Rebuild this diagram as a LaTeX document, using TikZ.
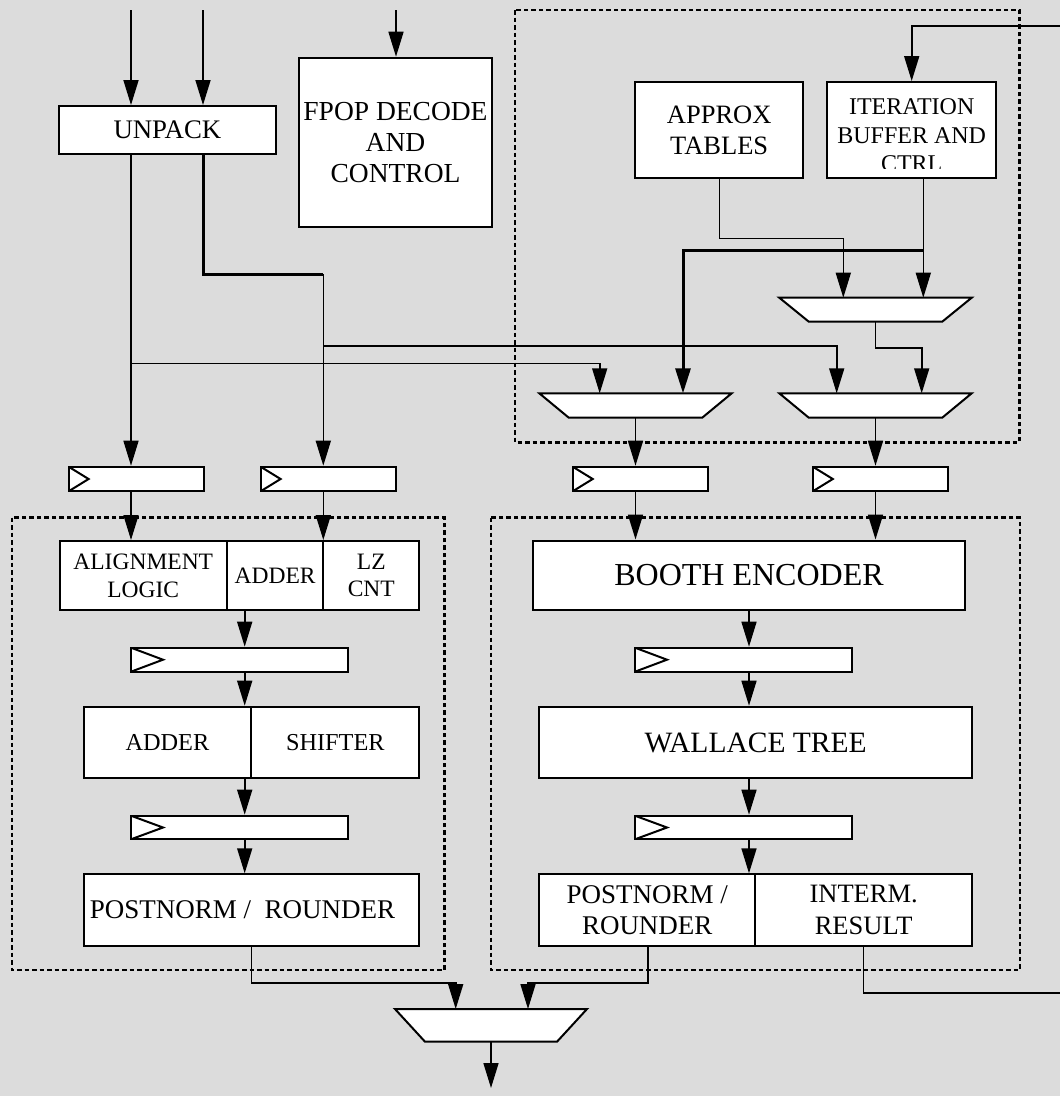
\documentclass[tikz,border=0pt]{standalone}
\usepackage{fontspec}
\setmainfont{Liberation Serif}
\usetikzlibrary{arrows.meta}
\newcommand\setfs[2]{\fontsize{#1}{#2}\selectfont}
\definecolor{canvas}{RGB}{220,220,220}
\begin{document}
\begin{tikzpicture}[x=1pt,y=-1pt,
  blk/.style={draw, line width=2pt, fill=white, inner sep=0pt, align=center},
  reg/.style={draw, line width=2pt, fill=white, inner sep=0pt,
    path picture={\draw[line width=2pt] (path picture bounding box.north west)
      -- ([xshift=#1pt]path picture bounding box.west)
      -- (path picture bounding box.south west);}},
  muxbox/.style={inner sep=0pt, outer sep=0pt},
  muxshape/.style={draw, line width=2pt, fill=white, line join=miter},
  wire/.style={line width=1.6pt},
  bus/.style={line width=3pt},
  arr/.style={wire, -{Triangle[length=25pt,width=15pt]}},
  busarr/.style={bus, -{Triangle[length=25pt,width=15pt]}},
  groupframe/.style={line width=2.5pt, dash pattern=on 4.5pt off 3pt},
]
\useasboundingbox (0,0) rectangle (1060,1096);
\fill[canvas] (0,0) rectangle (1060,1096);

% pipeline group frames
\draw[groupframe] (515,10) rectangle (1019.3,442.3);
\draw[groupframe] (11.8,517.7) rectangle (444.3,970);
\draw[groupframe] (491.2,517.7) rectangle (1020,970);

% front end
\node[blk, minimum width=216.7pt, minimum height=48.3pt, font=\setfs{26.8}{30}] (unpack) at (167.4,130.2) {UNPACK};
\node[blk, minimum width=193pt, minimum height=169pt, font=\setfs{27.5}{31}] (fpop) at (395.5,142.2) {FPOP DECODE\\AND\\CONTROL};
\node[blk, minimum width=168.3pt, minimum height=96.3pt, font=\setfs{26.5}{31.7}] (approx) at (719.2,130.2) {APPROX\\TABLES};
\node[blk, minimum width=168.7pt, minimum height=96.3pt] (iter) at (911.7,130.2) {};
\begin{scope}
  \clip (827.3,82) rectangle (996,168.3);
  \node[font=\setfs{24}{28.3}, align=center, inner sep=0pt] (itertxt) at (911.7,135.3) {ITERATION\\BUFFER AND\\CTRL};
\end{scope}

% multiplexers
\node[muxbox, minimum width=192.4pt, minimum height=24pt] (muxT) at (875.5,309.7) {};
\node[muxbox, minimum width=192.4pt, minimum height=24.4pt] (muxL) at (635.5,405.5) {};
\node[muxbox, minimum width=192.4pt, minimum height=24.4pt] (muxR) at (875.5,405.5) {};
\node[muxbox, minimum width=192pt, minimum height=32.7pt] (muxF) at (491,1025.35) {};
\foreach \m/\d in {muxT/29.5, muxL/29.5, muxR/29.5, muxF/30}
  \draw[muxshape] (\m.north west) -- (\m.north east)
    -- ([xshift=-\d pt]\m.south east) -- ([xshift=\d pt]\m.south west) -- cycle;

% pipeline registers
\node[reg=20, minimum width=135pt, minimum height=24.6pt] (r1) at (136.1,479) {};
\node[reg=20, minimum width=135pt, minimum height=24.6pt] (r2) at (328.1,479) {};
\node[reg=20, minimum width=135pt, minimum height=24.6pt] (r3) at (640.2,479) {};
\node[reg=20, minimum width=135pt, minimum height=24.6pt] (r4) at (880.3,479) {};
\node[reg=32, minimum width=216.7pt, minimum height=24pt] (r5) at (239.35,659.7) {};
\node[reg=32, minimum width=216.7pt, minimum height=23.6pt] (r6) at (239.35,827.5) {};
\node[reg=32, minimum width=216.7pt, minimum height=24pt] (r7) at (743.35,659.7) {};
\node[reg=32, minimum width=216.7pt, minimum height=23.6pt] (r8) at (743.35,827.5) {};

% add / align datapath
\node[blk, minimum width=167.5pt, minimum height=69pt, font=\setfs{23.5}{27.8}] (align) at (143.25,575.5) {ALIGNMENT\\LOGIC};
\node[blk, minimum width=96.3pt, minimum height=69pt, font=\setfs{23.5}{27.8}] (addA) at (275.15,575.5) {ADDER};
\node[blk, minimum width=96pt, minimum height=69pt, font=\setfs{23.5}{27.8}] (lzcnt) at (371.3,575.5) {LZ\\CNT};
\node[blk, minimum width=167.8pt, minimum height=71.6pt, font=\setfs{24.3}{28}] (addB) at (167.4,742.5) {ADDER};
\node[blk, minimum width=168pt, minimum height=71.6pt, font=\setfs{24.3}{28}] (shift) at (335.3,742.5) {SHIFTER};
\node[blk, minimum width=335.8pt, minimum height=71.7pt, font=\setfs{27}{30}] (postL) at (251.4,910.15) {POSTNORM /~ ROUNDER\hspace*{18pt}};

% multiply datapath
\node[blk, minimum width=432pt, minimum height=69.5pt, font=\setfs{32}{36}] (booth) at (749,575.25) {BOOTH ENCODER};
\node[blk, minimum width=432.8pt, minimum height=71.6pt, font=\setfs{29.5}{34}] (wallace) at (755.6,742.5) {WALLACE TREE};
\node[blk, minimum width=216.1pt, minimum height=71.7pt, font=\setfs{27}{31.7}] (postR) at (647.25,910.15) {POSTNORM /\\ROUNDER};
\node[blk, minimum width=216.7pt, minimum height=71.7pt, font=\setfs{26.5}{31.7}] (interm) at (863.65,910.15) {INTERM.\\RESULT};

% routing columns and rows
\coordinate (cA) at (131,0);   \coordinate (cB) at (203,0);   \coordinate (cC) at (323.3,0);
\coordinate (cF) at (396,0);   \coordinate (cL) at (244.7,0); \coordinate (cR) at (749,0);
\coordinate (cM1) at (599.7,0); \coordinate (cM2) at (683,0);
\coordinate (cM3) at (836.7,0); \coordinate (cM4) at (921.7,0);
\coordinate (cT1) at (719.3,0); \coordinate (cT2) at (843.3,0); \coordinate (cT3) at (923.3,0);
\coordinate (cPL) at (251.3,0); \coordinate (cPR) at (647.7,0); \coordinate (cIn) at (863.3,0);
\coordinate (cF1) at (455.7,0); \coordinate (cF2) at (528,0);
\coordinate (ytop) at (0,10);   \coordinate (yJ) at (0,274.3);
\coordinate (yH1) at (0,346);   \coordinate (yH2) at (0,363.5);
\coordinate (yA) at (0,238.3);  \coordinate (yB) at (0,250);   \coordinate (yC) at (0,347.7);
\coordinate (yD) at (0,982.7);  \coordinate (yE) at (0,992.7); \coordinate (yFB) at (0,26);
\coordinate (edge) at (1064,0); \coordinate (out) at (491,1088);

% inputs
\draw[arr] (cA |- ytop) -- (cA |- unpack.north);
\draw[arr] (cB |- ytop) -- (cB |- unpack.north);
\draw[arr] (cF |- ytop) -- (cF |- fpop.north);

% unpack outputs
\draw[arr] (cA |- unpack.south) -- (cA |- r1.north);
\draw[bus] (cB |- unpack.south) -- (cB |- yJ) -- (cC |- yJ);
\draw[arr] (cC |- yJ) -- (cC |- r2.north);
\draw[arr] (cA |- yH2) -- (cM1 |- yH2) -- (cM1 |- muxL.north);
\draw[arr] (cC |- yH1) -- (cM3 |- yH1) -- (cM3 |- muxR.north);

% iteration logic
\draw[arr] (cT1 |- approx.south) -- (cT1 |- yA) -- (cT2 |- yA) -- (cT2 |- muxT.north);
\draw[arr] (cT3 |- iter.south) -- (cT3 |- muxT.north);
\draw[busarr] (cT3 |- yB) -- (cM2 |- yB) -- (cM2 |- muxL.north);
\draw[arr] (muxT.south) -- (muxT.south |- yC) -- (cM4 |- yC) -- (cM4 |- muxR.north);
\draw[arr] (muxL.south) -- (muxL.south |- r3.north);
\draw[arr] (muxR.south) -- (muxR.south |- r4.north);

% into the datapaths
\draw[arr] (cA |- r1.south) -- (cA |- align.north);
\draw[arr] (cC |- r2.south) -- (cC |- lzcnt.north);
\draw[arr] (muxL.south |- r3.south) -- (muxL.south |- booth.north);
\draw[arr] (muxR.south |- r4.south) -- (muxR.south |- booth.north);

% add pipeline
\draw[arr] (cL |- align.south) -- (cL |- r5.north);
\draw[arr] (cL |- r5.south) -- (cL |- addB.north);
\draw[arr] (cL |- addB.south) -- (cL |- r6.north);
\draw[arr] (cL |- r6.south) -- (cL |- postL.north);

% multiply pipeline
\draw[arr] (cR |- booth.south) -- (cR |- r7.north);
\draw[arr] (cR |- r7.south) -- (cR |- wallace.north);
\draw[arr] (cR |- wallace.south) -- (cR |- r8.north);
\draw[arr] (cR |- r8.south) -- (cR |- postR.north);

% result select and feedback
\draw[arr] (cPL |- postL.south) -- (cPL |- yD) -- (cF1 |- yD) -- (cF1 |- muxF.north);
\draw[arr] (cPR |- postR.south) -- (cPR |- yD) -- (cF2 |- yD) -- (cF2 |- muxF.north);
\draw[arr] (muxF.south) -- (muxF.south |- out);
\draw[arr] (cIn |- interm.south) -- (cIn |- yE) -- (edge |- yE) -- (edge |- yFB)
  -- (iter.north |- yFB) -- (iter.north);
\end{tikzpicture}
\end{document}
